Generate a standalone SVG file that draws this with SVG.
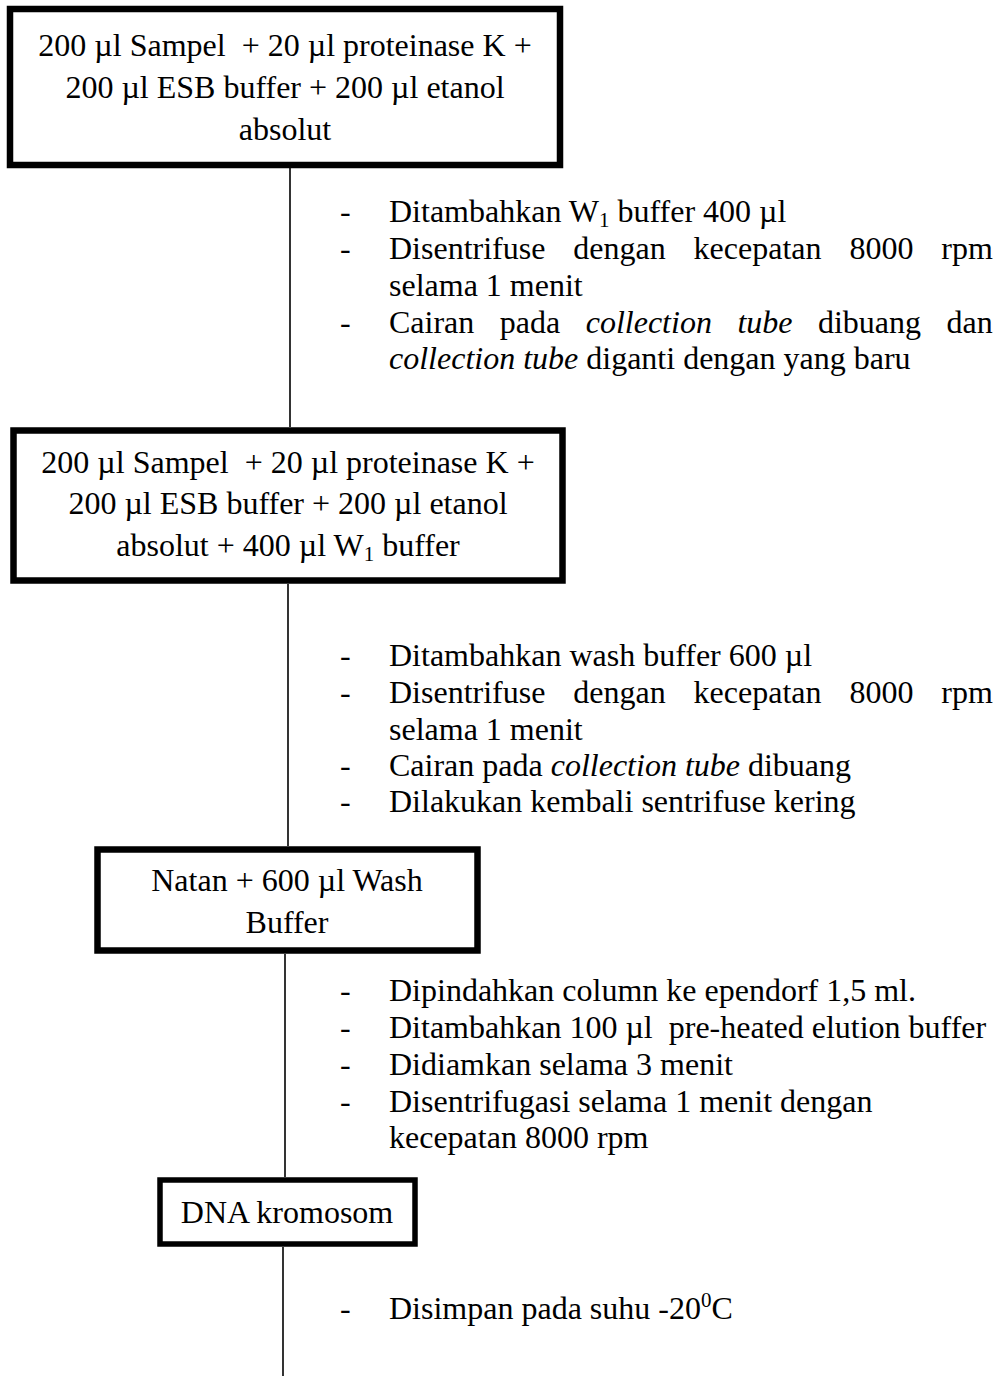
<svg xmlns="http://www.w3.org/2000/svg" width="1002" height="1376" viewBox="0 0 1002 1376">
<style>
text{font-family:"Liberation Serif","Times New Roman",serif;font-size:32px;fill:#000}
.c{text-anchor:middle}
.box{fill:#fff;stroke:#000;stroke-width:6.5}
.conn line{stroke:#000;stroke-width:1.6}
.sub{font-size:21px}
</style>
<rect width="1002" height="1376" fill="#fff"/>
<g class="conn" id="connectors">
<line x1="290" y1="168" x2="290" y2="427"/>
<line x1="288" y1="584" x2="288" y2="846"/>
<line x1="285" y1="954" x2="285" y2="1177"/>
<line x1="283" y1="1247" x2="283" y2="1376"/>
</g>
<g id="node1">
<rect class="box" x="10" y="9" width="550" height="156"/>
<text class="c" x="285" y="56" xml:space="preserve">200 µl Sampel  + 20 µl proteinase K +</text>
<text class="c" x="285" y="98">200 µl ESB buffer + 200 µl etanol</text>
<text class="c" x="285" y="140">absolut</text>
</g>
<g id="step1">
<text x="340" y="222">-</text>
<text x="389" y="222">Ditambahkan W<tspan class="sub" dy="5">1</tspan><tspan dy="-5"> buffer 400 µl</tspan></text>
<text x="340" y="259">-</text>
<text x="389" y="259" word-spacing="19.9">Disentrifuse dengan kecepatan 8000 rpm</text>
<text x="389" y="296">selama 1 menit</text>
<text x="340" y="333">-</text>
<text x="389" y="333" word-spacing="17.5">Cairan pada <tspan font-style="italic">collection tube</tspan> dibuang dan</text>
<text x="389" y="369"><tspan font-style="italic">collection tube</tspan> diganti dengan yang baru</text>
</g>
<g id="node2">
<rect class="box" x="13.5" y="430.5" width="549" height="150"/>
<text class="c" x="288" y="473" xml:space="preserve">200 µl Sampel  + 20 µl proteinase K +</text>
<text class="c" x="288" y="514">200 µl ESB buffer + 200 µl etanol</text>
<text class="c" x="288" y="556">absolut + 400 µl W<tspan class="sub" dy="5">1</tspan><tspan dy="-5"> buffer</tspan></text>
</g>
<g id="step2">
<text x="340" y="666">-</text>
<text x="389" y="666">Ditambahkan wash buffer 600 µl</text>
<text x="340" y="703">-</text>
<text x="389" y="703" word-spacing="19.9">Disentrifuse dengan kecepatan 8000 rpm</text>
<text x="389" y="740">selama 1 menit</text>
<text x="340" y="776">-</text>
<text x="389" y="776">Cairan pada <tspan font-style="italic">collection tube</tspan> dibuang</text>
<text x="340" y="812">-</text>
<text x="389" y="812">Dilakukan kembali sentrifuse kering</text>
</g>
<g id="node3">
<rect class="box" x="97.5" y="849.5" width="380" height="101"/>
<text class="c" x="287" y="891">Natan + 600 µl Wash</text>
<text class="c" x="287" y="933">Buffer</text>
</g>
<g id="step3">
<text x="340" y="1001">-</text>
<text x="389" y="1001">Dipindahkan column ke ependorf 1,5 ml.</text>
<text x="340" y="1038">-</text>
<text x="389" y="1038" xml:space="preserve">Ditambahkan 100 µl  pre-heated elution buffer</text>
<text x="340" y="1075">-</text>
<text x="389" y="1075">Didiamkan selama 3 menit</text>
<text x="340" y="1112">-</text>
<text x="389" y="1112">Disentrifugasi selama 1 menit dengan</text>
<text x="389" y="1148">kecepatan 8000 rpm</text>
</g>
<g id="node4">
<rect class="box" x="160" y="1180" width="255" height="64" style="stroke-width:5.5"/>
<text class="c" x="287" y="1223">DNA kromosom</text>
</g>
<g id="step4">
<text x="340" y="1319">-</text>
<text x="389" y="1319">Disimpan pada suhu -20<tspan class="sub" dy="-12">0</tspan><tspan dy="12">C</tspan></text>
</g>
</svg>
